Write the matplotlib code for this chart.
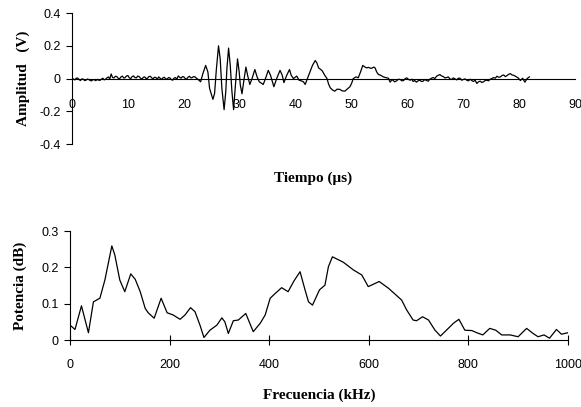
import matplotlib.pyplot as plt
from matplotlib.ticker import FixedLocator

# senal en el tiempo (us, V)
tiempo = [
    0, 0.25, 0.5, 0.75, 1, 1.25, 1.5, 1.75, 2, 2.25,
    2.5, 2.75, 3, 3.25, 3.5, 3.75, 4, 4.25, 4.5, 4.75,
    5, 5.25, 5.5, 5.75, 6, 6.25, 6.5, 6.75, 7, 7.25,
    7.5, 7.75, 8, 8.25, 8.5, 8.75, 9, 9.25, 9.5, 9.75,
    10, 10.25, 10.5, 10.75, 11, 11.25, 11.5, 11.75, 12, 12.25,
    12.5, 12.75, 13, 13.25, 13.5, 13.75, 14, 14.25, 14.5, 14.75,
    15, 15.25, 15.5, 15.75, 16, 16.25, 16.5, 16.75, 17, 17.25,
    17.5, 17.75, 18, 18.25, 18.5, 18.75, 19, 19.25, 19.5, 19.75,
    20, 20.25, 20.5, 20.75, 21, 21.25, 21.5, 21.75, 22, 22.25,
    22.5, 23.0, 23.4, 23.9, 24.3,
    24.6, 25.2, 25.5, 25.8, 26.2, 26.5, 26.8, 27.2, 27.5, 27.7,
    28.0, 28.3, 28.6, 28.9, 29.2, 29.6, 29.9, 30.1, 30.4, 30.7,
    31.1, 31.4, 31.8, 32.2, 32.7, 33.1, 33.5, 34.2, 34.6, 35.1,
    35.5, 36.1, 36.6, 37.2, 37.6, 37.9, 38.4, 38.9, 39.2, 39.6,
    40.2, 40.6, 41.1, 41.4, 41.7, 42.1, 42.5, 43.0, 43.5, 43.8,
    44.1, 44.5, 44.8, 45.2, 45.6, 45.9, 46.2, 46.6, 47.0, 47.4,
    47.9, 48.3, 48.8, 49.2, 49.7, 50.0, 50.3, 50.8, 51.2, 51.6,
    52.0, 52.4, 52.7, 53.0, 53.5, 54.0, 54.2, 54.5, 54.8, 55.2,
    55.7, 56.2, 56.6, 56.9, 57.2, 57.4, 57.7, 58.0, 58.4, 58.7,
    59.0, 59.3, 59.6, 59.9, 60.2, 60.5, 60.8, 61.0, 61.3, 61.6,
    61.9, 62.2, 62.5, 62.8, 63.1, 63.4, 63.7, 64.0, 64.3, 64.6,
    64.9, 65.2, 65.5, 65.8, 66.1, 66.4, 66.7, 67.0, 67.3, 67.6,
    67.9, 68.2, 68.5, 68.8, 69.1, 69.4, 69.7, 70.0, 70.3, 70.6,
    70.9, 71.2, 71.5, 71.8, 72.1, 72.4, 72.7, 73.0, 73.3, 73.6,
    73.9, 74.2, 74.5, 74.8, 75.1, 75.4, 75.7, 76.0, 76.3, 76.6,
    76.9, 77.2, 77.5, 77.8, 78.1, 78.4, 78.7, 79.0, 79.4, 79.8,
    80.2, 80.6, 81.0, 81.4, 81.8,
]
amplitud = [
    0.005, -0.004, -0.008, 0.002, 0.003, -0.006, -0.012, -0.002, -0.004, -0.012,
    -0.010, -0.003, -0.006, -0.012, -0.014, -0.006, -0.008, -0.013, -0.005, -0.010,
    -0.011, -0.004, 0.002, -0.008, -0.004, 0.004, 0.010, -0.002, 0.028, 0.006,
    0.004, 0.014, 0.012, 0.002, -0.002, 0.010, 0.015, 0.003, 0.006, 0.016,
    0.018, 0.004, 0.000, 0.012, 0.016, 0.006, 0.004, 0.015, 0.012, 0.002,
    -0.004, 0.008, 0.010, 0.000, 0.002, 0.012, 0.014, 0.004, -0.002, 0.008,
    0.006, -0.004, 0.010, 0.002, -0.006, 0.004, 0.008, -0.002, -0.004, 0.006,
    0.004, -0.006, -0.010, 0.002, 0.006, -0.004, 0.016, 0.008, 0.002, 0.012,
    0.010, 0.000, -0.004, 0.008, 0.014, 0.004, 0.006, 0.012, 0.010, 0.002,
    -0.004, -0.020, 0.030, 0.080, 0.040,
    -0.060, -0.127, -0.090, 0.050, 0.200, 0.120, -0.060, -0.190, -0.080, 0.060,
    0.186, 0.080, -0.080, -0.190, -0.050, 0.120, 0.040, -0.040, -0.093, -0.020,
    0.070, 0.020, -0.036, 0.000, 0.055, 0.010, -0.020, -0.036, 0.000, 0.050,
    0.020, -0.050, 0.000, 0.050, 0.020, -0.025, 0.020, 0.055, 0.020, 0.000,
    0.015, -0.010, -0.015, -0.020, -0.036, 0.000, 0.035, 0.080, 0.110, 0.095,
    0.065, 0.055, 0.045, 0.020, 0.000, -0.035, -0.057, -0.070, -0.077, -0.065,
    -0.066, -0.075, -0.077, -0.065, -0.050, -0.030, 0.000, 0.010, 0.005, 0.040,
    0.080, 0.070, 0.065, 0.068, 0.062, 0.070, 0.065, 0.040, 0.025, 0.020,
    0.010, 0.005, 0.002, -0.022, -0.008, -0.010, -0.020, -0.015, -0.004, -0.006,
    -0.014, -0.012, 0.000, 0.004, -0.006, -0.010, -0.004, -0.018, -0.012, -0.022,
    -0.014, -0.010, -0.018, -0.016, -0.006, -0.012, -0.016, -0.004, 0.002, 0.006,
    0.000, 0.014, 0.020, 0.024, 0.016, 0.012, 0.004, 0.006, 0.010, -0.002,
    -0.006, 0.004, -0.002, -0.008, 0.002, 0.002, -0.010, -0.006, -0.002, -0.010,
    -0.014, -0.004, -0.012, -0.018, -0.010, -0.030, -0.020, -0.016, -0.024, -0.020,
    -0.012, -0.010, -0.014, -0.004, 0.000, 0.006, 0.002, 0.014, 0.008, 0.010,
    0.018, 0.022, 0.012, 0.018, 0.026, 0.030, 0.022, 0.020, 0.012, 0.004,
    -0.012, 0.002, -0.022, 0.000, 0.010,
]

# espectro (kHz, dB)
frecuencia = [
    0, 10, 23, 37, 47, 60, 70, 84, 90, 100,
    110, 122, 131, 141, 151, 157, 169, 183, 195, 207,
    221, 231, 242, 251, 261, 269, 281, 295, 305, 311,
    318, 328, 338, 353, 368, 382, 392, 402, 412, 425,
    438, 450, 462, 472, 479, 487, 501, 512, 519, 527,
    549, 569, 586, 599, 621, 640, 666, 676, 689, 696,
    708, 720, 733, 744, 756, 770, 781, 793, 807, 817,
    829, 843, 855, 867, 884, 900, 917, 930, 940, 952,
    963, 977, 987, 1000,
]
potencia = [
    0.041, 0.029, 0.094, 0.020, 0.105, 0.115, 0.165, 0.259, 0.234, 0.165,
    0.133, 0.182, 0.167, 0.133, 0.087, 0.075, 0.060, 0.115, 0.075, 0.069,
    0.057, 0.069, 0.089, 0.078, 0.041, 0.007, 0.027, 0.041, 0.061, 0.050,
    0.018, 0.053, 0.055, 0.073, 0.023, 0.046, 0.069, 0.115, 0.128, 0.144,
    0.133, 0.163, 0.188, 0.138, 0.105, 0.096, 0.138, 0.151, 0.202, 0.229,
    0.214, 0.193, 0.179, 0.147, 0.161, 0.142, 0.110, 0.083, 0.055, 0.053,
    0.064, 0.055, 0.027, 0.011, 0.027, 0.046, 0.057, 0.027, 0.026, 0.020,
    0.014, 0.032, 0.027, 0.014, 0.014, 0.009, 0.032, 0.018, 0.009, 0.014,
    0.005, 0.029, 0.016, 0.020,
]

serif = ["Liberation Serif", "DejaVu Serif"]
sans = ["Liberation Sans", "DejaVu Sans"]

fig = plt.figure(figsize=(5.81, 4.07), dpi=100)

# --- arriba: senal temporal
ax1 = fig.add_axes([0.124, 0.646, 0.866, 0.322])
ax1.plot(tiempo, amplitud, color="black", lw=0.9)
ax1.set_xlim(0, 90)
ax1.set_ylim(-0.4, 0.4)
ax1.spines["top"].set_visible(False)
ax1.spines["right"].set_visible(False)
ax1.spines["bottom"].set_position(("data", 0))
ax1.set_xticks(range(0, 91, 10))
ax1.xaxis.set_minor_locator(FixedLocator([90]))
ax1.tick_params(axis="x", which="major", length=0, pad=15)
ax1.tick_params(axis="x", which="minor", direction="inout", length=7)
ax1.set_yticks([-0.4, -0.2, 0, 0.2, 0.4])
ax1.set_yticklabels(["-0.4", "-0.2", "0", "0.2", "0.4"])
ax1.tick_params(axis="y", direction="out", length=4, pad=4)
for lab in ax1.get_xticklabels() + ax1.get_yticklabels():
    lab.set_family(sans)
    lab.set_fontsize(9)
ax1.set_ylabel("Amplitud   (V)", family=serif, fontweight="bold", fontsize=11)
ax1.yaxis.set_label_coords(-0.083, 0.5)
fig.text(0.539, 0.563, "Tiempo (\u03bcs)", family=serif, fontweight="bold",
         fontsize=11, ha="center", va="center")

# --- abajo: espectro
ax2 = fig.add_axes([0.1205, 0.1646, 0.857, 0.2678])
ax2.plot(frecuencia, potencia, color="black", lw=0.9)
ax2.set_xlim(0, 1000)
ax2.set_ylim(0, 0.3)
ax2.spines["top"].set_visible(False)
ax2.spines["right"].set_visible(False)
ax2.set_xticks(range(0, 1001, 200))
ax2.tick_params(axis="x", direction="inout", length=7, pad=10)
ax2.set_yticks([0, 0.1, 0.2, 0.3])
ax2.set_yticklabels(["0", "0.1", "0.2", "0.3"])
ax2.tick_params(axis="y", direction="out", length=4, pad=4)
for lab in ax2.get_xticklabels() + ax2.get_yticklabels():
    lab.set_family(sans)
    lab.set_fontsize(9)
ax2.set_xlabel("Frecuencia (kHz)", family=serif, fontweight="bold", fontsize=11, labelpad=13)
ax2.set_ylabel("Potencia (dB)", family=serif, fontweight="bold", fontsize=11)
ax2.yaxis.set_label_coords(-0.086, 0.5)

fig.savefig("out.png", dpi=100)
